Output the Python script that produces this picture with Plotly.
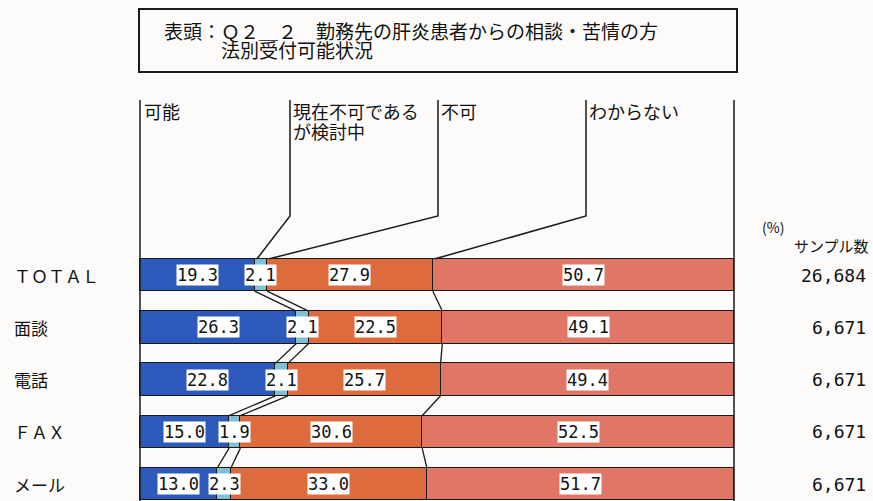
import plotly.graph_objects as go

# ---------------- data ----------------
categories = ["ＴＯＴＡＬ", "面談", "電話", "ＦＡＸ", "メール"]
series_names = ["可能", "現在不可であるが検討中", "不可", "わからない"]
possible = [19.3, 26.3, 22.8, 15.0, 13.0]
considering = [2.1, 2.1, 2.1, 1.9, 2.3]
impossible = [27.9, 22.5, 25.7, 30.6, 33.0]
unknown = [50.7, 49.1, 49.4, 52.5, 51.7]
sample_sizes = ["26,684", "6,671", "6,671", "6,671", "6,671"]
title_line1 = "表頭：Ｑ２＿２　勤務先の肝炎患者からの相談・苦情の方"
title_line2 = "法別受付可能状況"

series = [possible, considering, impossible, unknown]
colors = ["#2c59ba", "#7fc0d4", "#de6b3d", "#e07666"]

# ---------------- page geometry (pixels -> data) ----------------
W, H = 873, 501
X0, X100 = 140, 734
SX = (X100 - X0) / 100.0
ROW0, PITCH = 275, 52.3
BAR_W = 0.62


def px_x(p):
    return (p - X0) / SX


def px_y(p):
    return (p - ROW0) / PITCH


rows = list(range(len(categories)))
JP = "Noto Sans CJK JP, sans-serif"
MONO = "DejaVu Sans Mono, Liberation Mono, monospace"

fig = go.Figure()
for name, vals, col in zip(series_names, series, colors):
    fig.add_trace(go.Bar(
        y=rows, x=vals, orientation="h", name=name, width=BAR_W,
        marker=dict(color=col, line=dict(color="#1a1a1a", width=1.3)),
        hoverinfo="skip", showlegend=False,
    ))

# cumulative boundaries
cums = []
for i in rows:
    c = [0.0]
    for s in series:
        c.append(c[-1] + s[i])
    cums.append(c)

# connector lines between bars
cx, cy = [], []
for k in (1, 2, 3):
    for i in rows[:-1]:
        cx += [cums[i][k], cums[i + 1][k], None]
        cy += [i + BAR_W / 2, i + 1 - BAR_W / 2, None]
fig.add_trace(go.Scatter(x=cx, y=cy, mode="lines",
                         line=dict(color="#1a1a1a", width=1.3),
                         hoverinfo="skip", showlegend=False))

# leader lines for category labels
top_y = px_y(100)
knee_y = px_y(216)
leader_px = [None, 290, 438, 586]
lx, ly = [], []
for k in (1, 2, 3):
    xk = px_x(leader_px[k])
    lx += [xk, xk, cums[0][k] + 0.4, None]
    ly += [top_y, knee_y, -BAR_W / 2, None]
fig.add_trace(go.Scatter(x=lx, y=ly, mode="lines",
                         line=dict(color="#1a1a1a", width=1.5),
                         hoverinfo="skip", showlegend=False))

shapes = []
# frame verticals
for xv in (0, 100):
    shapes.append(dict(type="line", xref="x", yref="y", x0=xv, x1=xv,
                       y0=top_y, y1=px_y(H + 5),
                       line=dict(color="#1a1a1a", width=1.5)))
# title box
shapes.append(dict(type="rect", xref="x", yref="y",
                   x0=px_x(139), x1=px_x(737), y0=px_y(9), y1=px_y(72),
                   line=dict(color="#1a1a1a", width=2), fillcolor="rgba(0,0,0,0)"))

ann = []
# title
ann.append(dict(x=px_x(162), y=px_y(30), text=title_line1, xanchor="left", yanchor="middle",
                showarrow=False, font=dict(family=JP, size=19, color="#111")))
ann.append(dict(x=px_x(219), y=px_y(49), text=title_line2, xanchor="left", yanchor="middle",
                showarrow=False, font=dict(family=JP, size=19, color="#111")))

# category labels
label_lines = [("可能", 142, 111), ("現在不可である", 291, 111), ("が検討中", 291, 131),
               ("不可", 439, 111), ("わからない", 587, 111)]
for txt, xp, yp in label_lines:
    ann.append(dict(x=px_x(xp), y=px_y(yp), text=txt, xanchor="left", yanchor="middle",
                    showarrow=False, font=dict(family=JP, size=18, color="#111")))

# row labels
for i, c in zip(rows, categories):
    ann.append(dict(x=px_x(12), y=i, text=c, xanchor="left", yanchor="middle",
                    showarrow=False, font=dict(family=JP, size=17, color="#111")))

# value labels
for i in rows:
    for k, s in enumerate(series):
        mid = (cums[i][k] + cums[i][k + 1]) / 2
        ann.append(dict(x=mid, y=i, text=f"{s[i]:.1f}", xanchor="center", yanchor="middle",
                        showarrow=False, bgcolor="white", borderpad=0,
                        font=dict(family=MONO, size=17, color="#111")))

# sample sizes
ann.append(dict(x=px_x(773), y=px_y(227), text="(%)", xanchor="center", yanchor="middle",
                showarrow=False, font=dict(family=JP, size=14, color="#111")))
ann.append(dict(x=px_x(871), y=px_y(245), text="サンプル数", xanchor="right", yanchor="middle",
                showarrow=False, font=dict(family=JP, size=15, color="#111")))
for i, n in zip(rows, sample_sizes):
    ann.append(dict(x=px_x(868), y=i, text=n, xanchor="right", yanchor="middle",
                    showarrow=False, font=dict(family=MONO, size=18, color="#111")))

fig.update_layout(
    width=W, height=H, barmode="stack", bargap=0,
    margin=dict(l=0, r=0, t=0, b=0),
    paper_bgcolor="#fcfbf9", plot_bgcolor="#fcfbf9",
    xaxis=dict(range=[px_x(0), px_x(W)], visible=False, fixedrange=True),
    yaxis=dict(range=[px_y(H), px_y(0)], visible=False, fixedrange=True),
    shapes=shapes, annotations=ann,
)

fig.write_html("out.html", config={"displayModeBar": False},
               post_script="document.body.style.margin='0';document.body.style.overflow='hidden';")
